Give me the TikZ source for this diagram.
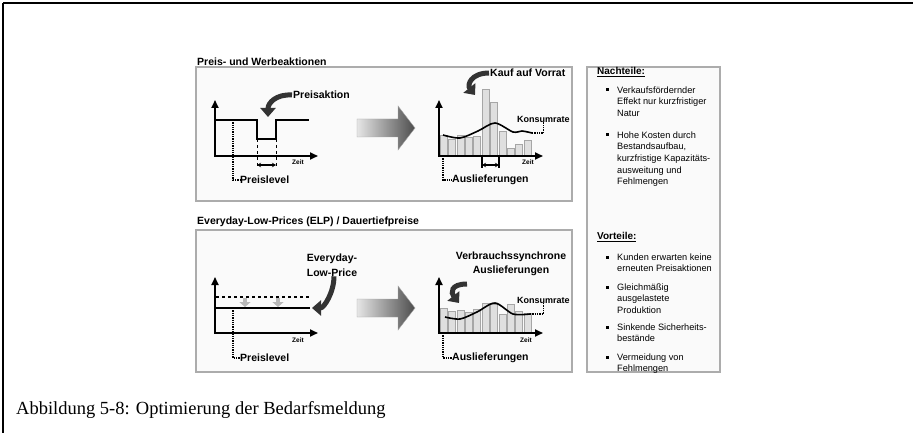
\documentclass[tikz,border=0pt]{standalone}
\usepackage{fontspec}
\setmainfont{Liberation Sans}
\newfontfamily\capfont{Liberation Serif}
\usetikzlibrary{arrows.meta}
\usetikzlibrary{calc}

\begin{document}
\begin{tikzpicture}[x=1pt,y=-1pt,
  lbl/.style={font=\bfseries\fontsize{10.5}{14.5}\selectfont, inner sep=0pt},
  zeit/.style={font=\bfseries\fontsize{6.5}{7}\selectfont, inner sep=0pt, anchor=west},
  panel/.style={draw=gray!65, fill=gray!4, line width=1.2pt},
  achse/.style={line width=1.8pt, {Triangle[length=8pt,width=7pt]}-{Triangle[length=8pt,width=7pt]}},
  bar/.style={draw=gray!70, fill=gray!25, line width=0.6pt},
  lead/.style={densely dotted, line width=1.3pt},
  curvarrow/.style={line width=5pt, black!80, -{Triangle[length=9pt,width=15pt]}},
  blockarrow/.style={draw=gray!70, left color=gray!20, right color=black!70},
  zeitspan/.style={line width=1.1pt, {Stealth[length=4pt,width=4.5pt]}-{Stealth[length=4pt,width=4.5pt]}},
  txt/.style={font=\fontsize{9.2}{11.6}\selectfont, inner sep=0pt, align=left, anchor=north west}]
\useasboundingbox (0,0) rectangle (913,433);
\draw[line width=1.5pt] (3,3) -- (913,3);
\draw[line width=1.5pt] (3,3) -- (3,433);

% Rahmen und Titel
\node[lbl, anchor=west] (t1) at (197,62) {Preis- und Werbeaktionen};
\draw[panel] (196,67) rectangle (572,201);
\node[lbl, anchor=west] (t2) at (197,222) {Everyday-Low-Prices (ELP) / Dauertiefpreise};
\draw[panel] (196,230) rectangle (572,372);
\draw[panel] (587,67) rectangle (720,372);

% Preisaktion
\draw[achse] (215,100) -- (215,156) -- (318,156);
\draw[line width=1.4pt] (216,120) -- (257,120) -- (257,139) -- (276,139) -- (276,120) -- (309,120);
\draw[dashed, line width=0.9pt] (257,139) -- (257,167) (276,139) -- (276,167);
\draw[zeitspan] (257,165) -- (276,165);
\node[zeit] (z1) at (292,162) {Zeit};
\node[lbl, anchor=west] (pl1) at (240,180) {Preislevel};
\coordinate (p1) at (233,120);
\draw[lead] (p1) |- (pl1.west);
\node[lbl, anchor=west] (pa) at (293,95) {Preisaktion};
\draw[curvarrow] ([xshift=-1pt]pa.west) .. controls +(-16,-1) and +(0,-14) .. (268,117);

\shadedraw[blockarrow] (357,119) -- (398,119) -- (398,106) -- (415,128) -- (398,150) -- (398,137) -- (357,137) -- cycle;

% Kauf auf Vorrat
\foreach \h [count=\i from 0] in {135,139,135,137,136,89,102,131,148,144,140}
  \draw[bar] ({440+8.4*\i},156) rectangle ({447+8.4*\i},\h);
\draw[achse] (439,100) -- (439,156) -- (543,156);
\draw[line width=1.6pt] plot[smooth] coordinates {(443,135) (460,138) (478,131) (495,123) (513,132) (522,131) (532,133)};
\coordinate (k1) at (532,133);
\node[lbl, font=\bfseries\fontsize{9}{10}\selectfont, anchor=west] (kr1) at (517,119) {Konsumrate};
\draw[lead] (k1) -| (kr1.south);
\draw[line width=1.1pt] (482,156) -- (482,168) (499,156) -- (499,168);
\draw[zeitspan] (482,165) -- (499,165);
\node[zeit] (z2) at (522,162) {Zeit};
\node[lbl, anchor=west] (al1) at (452,180) {Auslieferungen};
\coordinate (a1) at (443,156);
\draw[lead] (a1) |- (al1.west);
\node[lbl, anchor=west] (kv) at (490,73) {Kauf auf Vorrat};
\draw[curvarrow] ([xshift=-1pt]kv.west) .. controls +(-18,0) and +(-8,-10) .. (475,95);

% Dauertiefpreise
\draw[achse] (215,277) -- (215,333) -- (318,333);
\draw[dashed, line width=1.4pt] (216,297) -- (310,297);
\draw[line width=1.6pt] (216,308) -- (310,308);
\foreach \x in {245,278}
  \draw[line width=4pt, gray!55, -{Triangle[length=5pt,width=11pt]}] (\x,298) -- (\x,307);
\node[zeit] (z3) at (292,340) {Zeit};
\node[lbl, anchor=west] (pl2) at (240,358) {Preislevel};
\coordinate (p2) at (233,308);
\draw[lead] (p2) |- (pl2.west);
\node[lbl, align=center] (elp) at (332,265) {Everyday-\\Low-Price};
\draw[curvarrow] ([xshift=2pt]elp.south) .. controls +(0,16) and +(12,0) .. (312,308);

\shadedraw[blockarrow] (357,299) -- (398,299) -- (398,286) -- (415,308) -- (398,330) -- (398,317) -- (357,317) -- cycle;

% Verbrauchssynchrone Auslieferungen
\foreach \h [count=\i from 0] in {308,311,310,312,309,303,304,314,304,311,313}
  \draw[bar] ({440+8.4*\i},333) rectangle ({447+8.4*\i},\h);
\draw[achse] (439,277) -- (439,333) -- (543,333);
\draw[line width=1.6pt] plot[smooth] coordinates {(445,317) (460,319) (477,312) (495,303) (513,314) (530,314)};
\coordinate (k2) at (530,314);
\node[lbl, font=\bfseries\fontsize{9}{10}\selectfont, anchor=west] (kr2) at (517,300) {Konsumrate};
\draw[lead] (k2) -| (kr2.south);
\node[zeit] (z4) at (520,340) {Zeit};
\node[lbl, anchor=west] (al2) at (452,358) {Auslieferungen};
\coordinate (a2) at (443,333);
\draw[lead] (a2) |- (al2.west);
\node[lbl, align=center] (vs) at (511,264) {Verbrauchssynchrone\\Auslieferungen};
\coordinate (vsa) at (467,284);
\draw[curvarrow] (vsa) .. controls +(-17,0) and +(-8,-10) .. (459,303);

% Nachteile / Vorteile
\node[lbl, font=\bfseries\fontsize{10}{12}\selectfont, anchor=west] (nt) at (597,72) {\underline{Nachteile:}};
\foreach \y in {90,135,257,287,327,357}
  \fill (606,{\y-1.5}) rectangle (609,{\y+1.5});
\node[txt] (n1) at (617,86.5) {Verkaufsfördernder\\Effekt nur kurzfristiger\\Natur};
\node[txt] (n2) at (617,131.5) {Hohe Kosten durch\\Bestandsaufbau,\\kurzfristige Kapazitäts-\\ausweitung und\\Fehlmengen};
\node[lbl, font=\bfseries\fontsize{10}{12}\selectfont, anchor=west] (vt) at (597,237) {\underline{Vorteile:}};
\node[txt] (v1) at (617,253.5) {Kunden erwarten keine\\erneuten Preisaktionen};
\node[txt] (v2) at (617,283.5) {Gleichmäßig\\ausgelastete\\Produktion};
\node[txt] (v3) at (617,323.5) {Sinkende Sicherheits-\\bestände};
\node[txt] (v4) at (617,353.5) {Vermeidung von\\Fehlmengen};

\node[anchor=west, inner sep=0pt, font=\capfont\fontsize{18.5}{22}\selectfont] (cap) at (16,410) {Abbildung 5-8: Optimierung der Bedarfsmeldung};
\end{tikzpicture}
\end{document}
